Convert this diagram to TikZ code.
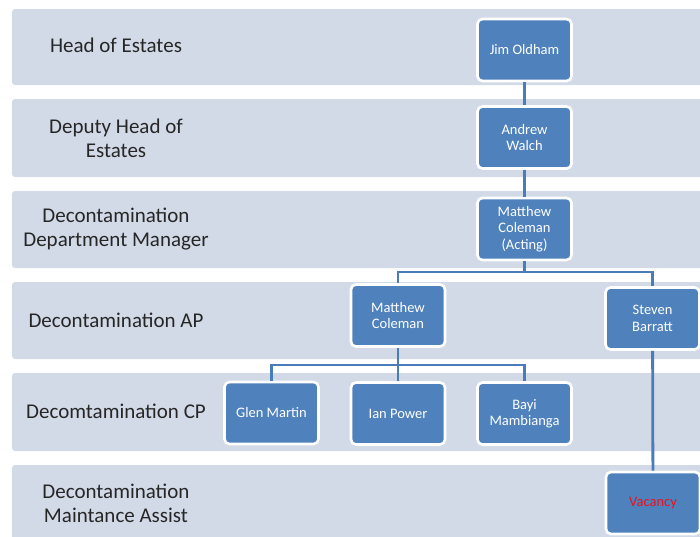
\documentclass[tikz,border=0pt]{standalone}
\usepackage{fontspec}
\setmainfont{Carlito}
\usetikzlibrary{positioning}
\definecolor{bandgray}{RGB}{211,218,231}
\definecolor{boxblue}{RGB}{79,129,189}
\definecolor{lineblue}{RGB}{74,124,185}
\definecolor{vacred}{RGB}{230,20,30}

\begin{document}
\begin{tikzpicture}[x=1pt,y=-1pt,
  band/.style={fill=bandgray,rounded corners=3pt},
  level/.style={align=center,font=\fontsize{21}{24}\selectfont,text=black!85},
  person/.style={fill=boxblue,draw=white,line width=2.6pt,rounded corners=5pt,
    minimum width=94pt,minimum height=62pt,text=white,align=center,
    font=\fontsize{14.5}{16.5}\selectfont},
  link/.style={draw=lineblue,line width=2.8pt}]
 \useasboundingbox (0,0) rectangle (700,536);
 % rows
 \foreach \top/\bot in {9/85,99/177,191/268,282/359,373/451,465/545}
  \path[band] (12,\top) rectangle (712,\bot);
 \node[level] (lvlhead) at (116,45) {Head of Estates};
 \node[level] (lvldeputy) at (116,138) {Deputy Head of\\Estates};
 \node[level] (lvlmanager) at (116,229) {Decontamination\\Department Manager};
 \node[level] (lvlap) at (116,320) {Decontamination AP};
 \node[level] (lvlcp) at (116,411) {Decomtamination CP};
 \node[level] (lvlassist) at (116,503) {Decontamination\\Maintance Assist};
 % people
 \node[person] (jim) at (524.5,50) {Jim Oldham};
 \node[person] (andrew) at (524.5,137.5) {Andrew\\Walch};
 \node[person] (acting) at (524.5,229) {Matthew\\Coleman\\(Acting)};
 \node[person] (matthew) at (398,315.5) {Matthew\\Coleman};
 \node[person] (steven) at (652.5,318.5) {Steven\\Barratt};
 \node[person] (glen) at (271.5,413) {Glen Martin};
 \node[person] (ian) at (398,413.5) {Ian Power};
 \node[person] (bayi) at (524.5,413.5) {Bayi\\Mambianga};
 \node[person,text=vacred] (vacancy) at (653,503) {Vacancy};
 \coordinate (split1) at (524.5,272);
 \coordinate (split2) at (398,365);
 % links
 \draw[link] (jim) -- (andrew);
 \draw[link] (andrew) -- (acting);
 \draw[link] (acting) -- (split1);
 \draw[link] (matthew.north) |- (split1) -| (steven.north);
 \draw[link] (matthew) -- (ian);
 \draw[link] (glen.north) |- (split2) -| (bayi.north);
 \draw[link] (steven) -- (vacancy);
\end{tikzpicture}
\end{document}
